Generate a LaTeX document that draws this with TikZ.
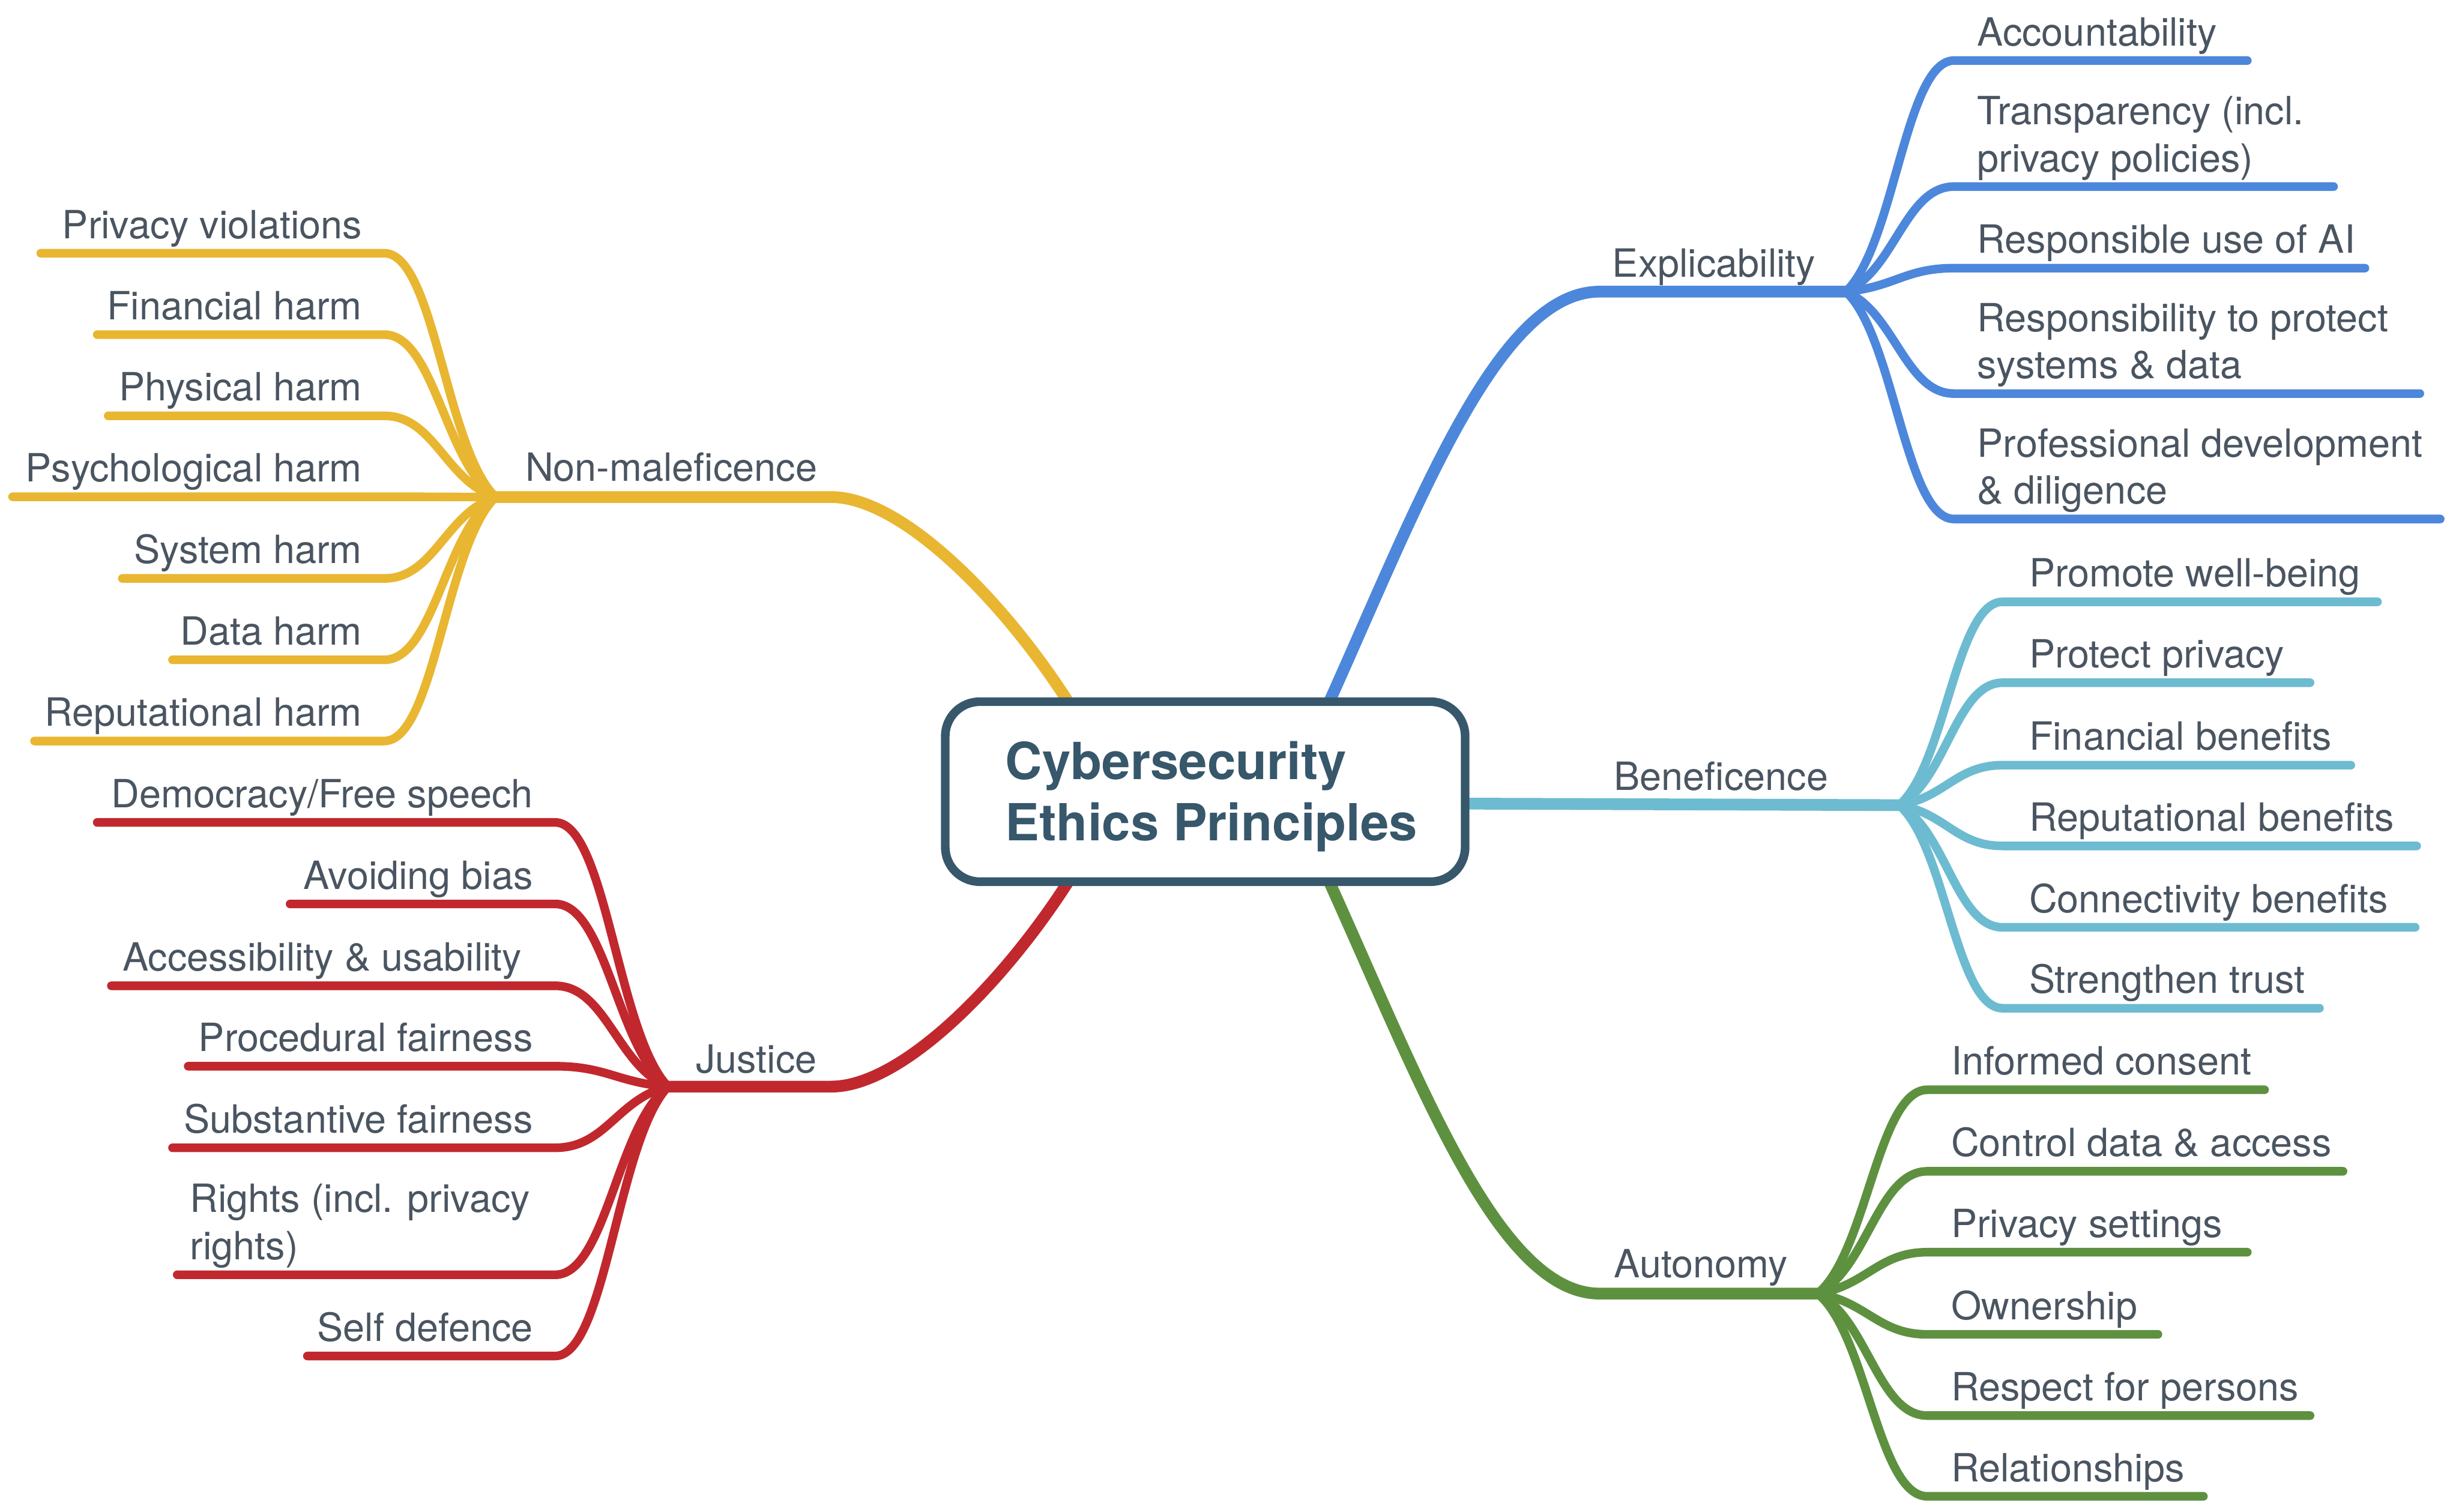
\documentclass[tikz,border=0pt]{standalone}
\usepackage{fontspec}
\setmainfont{TeX Gyre Heros}
\usetikzlibrary{calc}
\definecolor{cyel}{RGB}{233,182,49}
\definecolor{cblue}{RGB}{76,135,219}
\definecolor{ccyan}{RGB}{109,187,208}
\definecolor{cgreen}{RGB}{94,145,63}
\definecolor{cred}{RGB}{193,40,46}
\definecolor{ctext}{RGB}{74,85,97}
\definecolor{cbox}{RGB}{55,87,107}
\newcommand\mmsub[4]{%
  \draw[#1] let \p1=(#2), \p2=(#3) in (#2) .. controls ({\x1+0.45*(\x2-\x1)},{\y1+0.2*(\y2-\y1)}) and ({\x1+0.55*(\x2-\x1)},{\y2}) .. (#3) -- (#4);}
\newcommand\mline[2]{\begin{tabular}[b]{@{}l@{}}#1\\#2\end{tabular}}
\begin{document}
\begin{tikzpicture}[x=1pt,y=-1pt,
  sub/.style={line width=5.5pt,line cap=round,line join=round},
  mainln/.style={line width=7.5pt,line cap=round,line join=round},
  lbl/.style={text=ctext,font=\fontsize{24.8}{30}\selectfont,inner sep=0pt},
  corebox/.style={draw=cbox,line width=5.5pt,rounded corners=22pt,fill=white,
    minimum width=331.5pt,minimum height=114.8pt,inner sep=0pt,
    text=cbox,font=\bfseries\fontsize{32.6}{39}\selectfont}]
\useasboundingbox (0,0) rectangle (1568,964);
\fill[white] (0,0) rectangle (1568,964);

% ---------- Non-maleficence (yellow)
\coordinate (yJ) at (316,317);
\coordinate (yM) at (530,317);
\coordinate (yC) at (682,449);
\draw[mainln,cyel] (yC) .. controls (640,383) and (575,317) .. (yM) -- (yJ);
\node[lbl,anchor=base west] (yL) at (334.8,307) {Non-maleficence};
\foreach \i/\yy/\xe/\txt in {
  1/161.5/26/{Privacy violations},
  2/213.4/62/{Financial harm},
  3/265.2/69/{Physical harm},
  4/316.8/8/{Psychological harm},
  5/368.9/78/{System harm},
  6/420.8/110/{Data harm},
  7/472.6/22/{Reputational harm}}{
  \coordinate (y\i B) at (245,\yy);
  \coordinate (y\i E) at (\xe,\yy);
  \node[lbl,anchor=base east] (y\i T) at (231,\yy-9.5) {\txt};
  \mmsub{sub,cyel}{yJ}{y\i B}{y\i E}
}

% ---------- Justice (red)
\coordinate (rJ) at (426,693);
\coordinate (rM) at (530,693);
\coordinate (rC) at (682,561);
\draw[mainln,cred] (rC) .. controls (640,627) and (575,693) .. (rM) -- (rJ);
\node[lbl,anchor=base west] (rL) at (443.5,684.3) {Justice};
\foreach \i/\yy/\xe/\xt/\txt in {
  1/524.5/62/340/{Democracy/Free speech},
  2/576.5/185/340/{Avoiding bias},
  3/628.7/71/333/{Accessibility \& usability},
  4/680/120/340/{Procedural fairness},
  5/732/110/340/{Substantive fairness},
  7/864.8/196/340/{Self defence}}{
  \coordinate (r\i B) at (354,\yy);
  \coordinate (r\i E) at (\xe,\yy);
  \node[lbl,anchor=base east] (r\i T) at (\xt,\yy-9.5) {\txt};
  \mmsub{sub,cred}{rJ}{r\i B}{r\i E}
}
\coordinate (r6B) at (354,813);
\coordinate (r6E) at (113,813);
\node[lbl,anchor=base west] (r6T) at (121,803.2) {\mline{Rights (incl. privacy}{rights)}};
\mmsub{sub,cred}{rJ}{r6B}{r6E}

% ---------- Explicability (blue)
\coordinate (bJ) at (1177,186);
\coordinate (bM) at (1020,186);
\coordinate (bC) at (847,449);
\draw[mainln,cblue] (bC) .. controls (905,320) and (955,186) .. (bM) -- (bJ);
\node[lbl,anchor=base west] (bL) at (1028,176.5) {Explicability};
\foreach \i/\yy/\xe/\txt in {
  1/38.6/1433/{Accountability},
  2/119/1488/{\mline{Transparency (incl.}{privacy policies)}},
  3/171/1508/{Responsible use of AI},
  4/251/1543/{\mline{Responsibility to protect}{systems \& data}},
  5/331/1556/{\mline{Professional development}{\& diligence}}}{
  \coordinate (b\i B) at (1246,\yy);
  \coordinate (b\i E) at (\xe,\yy);
  \node[lbl,anchor=base west] (b\i T) at (1260.6,\yy-9.5) {\txt};
  \mmsub{sub,cblue}{bJ}{b\i B}{b\i E}
}

% ---------- Beneficence (cyan)
\coordinate (cJ) at (1211,513.5);
\coordinate (cS) at (930,512.5);
\draw[mainln,ccyan] (cS) -- (cJ);
\node[lbl,anchor=base west] (cL) at (1029,503.8) {Beneficence};
\foreach \i/\yy/\xe/\txt in {
  1/383.8/1516/{Promote well-being},
  2/435.4/1473/{Protect privacy},
  3/488/1499/{Financial benefits},
  4/539.5/1541/{Reputational benefits},
  5/591.4/1540/{Connectivity benefits},
  6/643/1479/{Strengthen trust}}{
  \coordinate (c\i B) at (1277,\yy);
  \coordinate (c\i E) at (\xe,\yy);
  \node[lbl,anchor=base west] (c\i T) at (1293.7,\yy-9.5) {\txt};
  \mmsub{sub,ccyan}{cJ}{c\i B}{c\i E}
}

% ---------- Autonomy (green)
\coordinate (gJ) at (1159,825);
\coordinate (gM) at (1020,825);
\coordinate (gC) at (847,561);
\draw[mainln,cgreen] (gC) .. controls (905,689) and (955,825) .. (gM) -- (gJ);
\node[lbl,anchor=base west] (gL) at (1029,814.7) {Autonomy};
\foreach \i/\yy/\xe/\txt in {
  1/695/1444/{Informed consent},
  2/747/1494/{Control data \& access},
  3/798.6/1433/{Privacy settings},
  4/851/1376/{Ownership},
  5/902.8/1473/{Respect for persons},
  6/954.3/1405/{Relationships}}{
  \coordinate (g\i B) at (1229,\yy);
  \coordinate (g\i E) at (\xe,\yy);
  \node[lbl,anchor=base west] (g\i T) at (1244,\yy-9.5) {\txt};
  \mmsub{sub,cgreen}{gJ}{g\i B}{g\i E}
}

% ---------- central node
\node[corebox] (core) at (768.5,504.9)
  {\hspace*{8pt}\raisebox{-3.8pt}[\height][\depth]{\begin{tabular}{@{}l@{}}Cybersecurity\\Ethics Principles\end{tabular}}};
\end{tikzpicture}
\end{document}
